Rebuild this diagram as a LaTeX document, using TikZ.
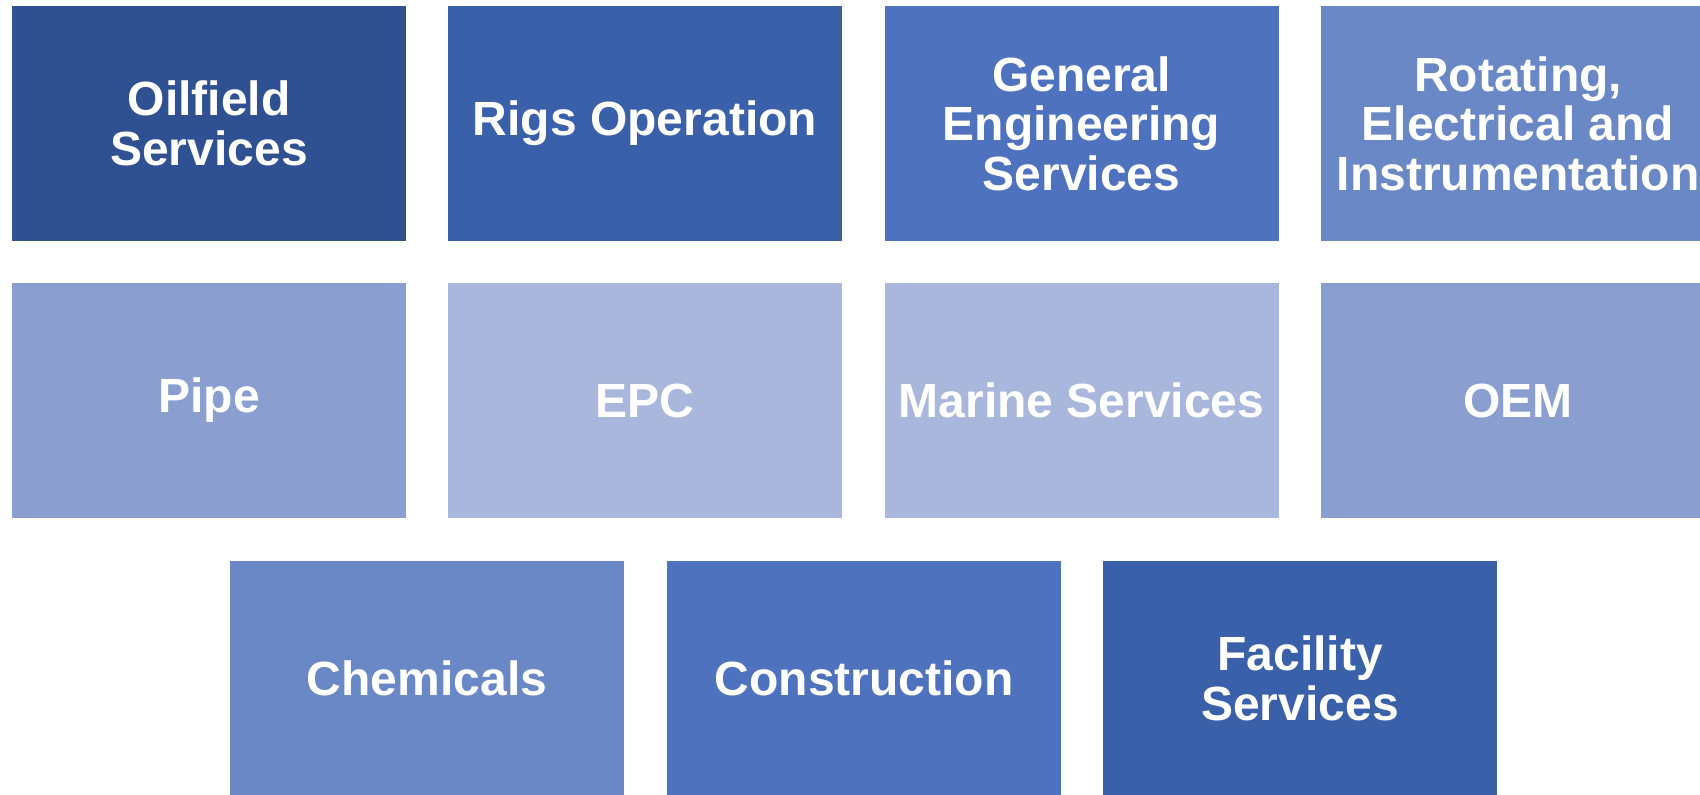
\documentclass[tikz,border=0pt]{standalone}
\usepackage{fontspec}
\setmainfont{Liberation Sans}
\definecolor{cA}{HTML}{2F5191}
\definecolor{cB}{HTML}{3A60AA}
\definecolor{cC}{HTML}{4F72BE}
\definecolor{cD}{HTML}{6A88C6}
\definecolor{cE}{HTML}{8A9FD0}
\definecolor{cF}{HTML}{A9B7DC}
\tikzset{
  cell/.style={rectangle, minimum width=394pt, minimum height=235pt, inner sep=0pt,
    text=white, align=center, font=\fontsize{48}{49.5}\selectfont\bfseries}
}
\begin{document}
\begin{tikzpicture}[x=1pt,y=1pt]
\useasboundingbox[fill=white] (0,0) rectangle (1700,-795);
\node[cell, fill=cA] (oil) at (209,-123.5) {Oilfield\\Services};
\node[cell, fill=cB] (rigs) at (645,-123.5) {Rigs Operation};
\node[cell, fill=cC] (gen) at (1081.5,-123.5) {General\\Engineering\\Services};
\node[cell, fill=cD] (rot) at (1518,-123.5) {Rotating,\\Electrical and\\Instrumentation};
\node[cell, fill=cE] (pipe) at (209,-400.5) {Pipe};
\node[cell, fill=cF] (epc) at (645,-400.5) {EPC};
\node[cell, fill=cF] (marine) at (1081.5,-400.5) {Marine Services};
\node[cell, fill=cE] (oem) at (1518,-400.5) {OEM};
\node[cell, fill=cD] (chem) at (427,-678.5) {Chemicals};
\node[cell, fill=cC] (cons) at (864,-678.5) {Construction};
\node[cell, fill=cB] (fac) at (1300,-678.5) {Facility\\Services};
\end{tikzpicture}
\end{document}
